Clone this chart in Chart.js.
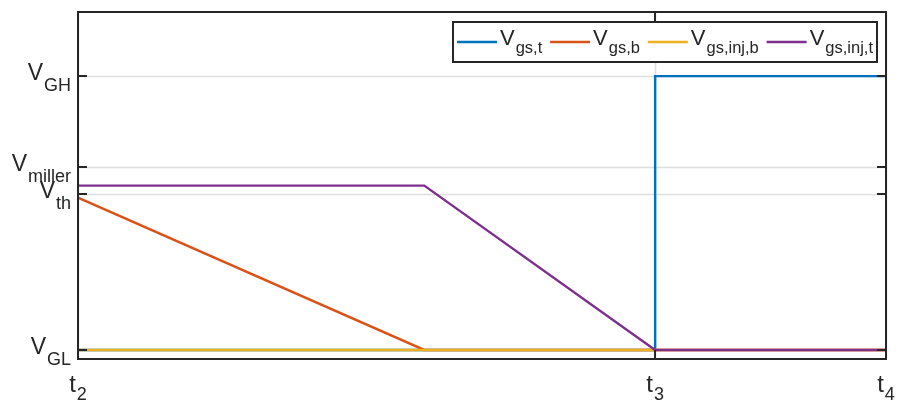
<!DOCTYPE html>
<html>
<head>
<meta charset="utf-8">
<script src="https://cdn.jsdelivr.net/npm/chart.js@4.4.1/dist/chart.umd.min.js"></script>
<style>
  html, body { margin: 0; padding: 0; background: #fff; }
  #wrap { width: 898px; height: 401px; }
</style>
</head>
<body>
<div id="wrap"><canvas id="gateChart"></canvas></div>
<script>
// time instants and gate voltage levels (normalised)
const timeTicks = [0, 1, 1.4];
const timeNames = ['2', '3', '4'];
const levelTicks = [0, 0.57, 0.668, 1];
const levelNames = ['GL', 'th', 'miller', 'GH'];

// V_gs,t
const tGsT = [0, 1, 1, 1.4];
const vGsT = [0, 0, 1, 1];
// V_gs,b
const tGsB = [0, 0.6, 1.4];
const vGsB = [0.556, 0, 0];
// V_gs,inj,b
const tInjB = [0, 1, 1.4];
const vInjB = [0, 0, 0];
// V_gs,inj,t
const tInjT = [0, 0.6, 1, 1.4];
const vInjT = [0.6, 0.6, 0, 0];

const seriesSubs = ['gs,t', 'gs,b', 'gs,inj,b', 'gs,inj,t'];
const seriesColors = ['#0072BD', '#D95319', '#EDB120', '#7E2F8E'];

const FONT = '"Liberation Sans", Arial, Helvetica, sans-serif';
const AXIS = '#262626';
const GRID = '#dedede';
const TICK_LEN = 9;

const toPts = (xs, ys) => xs.map((x, i) => ({ x, y: ys[i] }));

// "V" / "t" followed by a subscript
function measureSub(ctx, main, sub, big, small) {
  ctx.font = big + 'px ' + FONT;
  const w1 = ctx.measureText(main).width;
  ctx.font = small + 'px ' + FONT;
  const w2 = ctx.measureText(sub).width;
  return { w1, w2, w: w1 + w2 + 1 };
}
function drawSub(ctx, main, sub, x, baseMain, baseSub, big, small) {
  const m = measureSub(ctx, main, sub, big, small);
  ctx.fillStyle = AXIS;
  ctx.textAlign = 'left';
  ctx.textBaseline = 'alphabetic';
  ctx.font = big + 'px ' + FONT;
  ctx.fillText(main, x, baseMain);
  ctx.font = small + 'px ' + FONT;
  ctx.fillText(sub, x + m.w1 + 1, baseSub);
  return m.w;
}

const gridPlugin = {
  id: 'gridPlugin',
  beforeDatasetsDraw(chart) {
    const { ctx, chartArea: a, scales: { x, y } } = chart;
    ctx.save();
    ctx.strokeStyle = GRID;
    ctx.lineWidth = 1.6;
    levelTicks.forEach(v => {
      const py = Math.round(y.getPixelForValue(v)) + 0.5;
      ctx.beginPath(); ctx.moveTo(a.left, py); ctx.lineTo(a.right, py); ctx.stroke();
    });
    timeTicks.forEach(t => {
      const px = Math.round(x.getPixelForValue(t)) + 0.5;
      ctx.beginPath(); ctx.moveTo(px, a.top); ctx.lineTo(px, a.bottom); ctx.stroke();
    });
    ctx.restore();
  }
};

const axesPlugin = {
  id: 'axesPlugin',
  afterDatasetsDraw(chart) {
    const { ctx, chartArea: a, scales: { x, y } } = chart;
    ctx.save();
    ctx.strokeStyle = AXIS;
    ctx.lineWidth = 2;
    ctx.strokeRect(a.left, a.top, a.right - a.left, a.bottom - a.top);

    // inward ticks on all four sides
    levelTicks.forEach(v => {
      const py = Math.round(y.getPixelForValue(v));
      ctx.beginPath();
      ctx.moveTo(a.left, py); ctx.lineTo(a.left + TICK_LEN, py);
      ctx.moveTo(a.right, py); ctx.lineTo(a.right - TICK_LEN, py);
      ctx.stroke();
    });
    timeTicks.forEach(t => {
      const px = Math.round(x.getPixelForValue(t));
      ctx.beginPath();
      ctx.moveTo(px, a.bottom); ctx.lineTo(px, a.bottom - TICK_LEN);
      ctx.moveTo(px, a.top); ctx.lineTo(px, a.top + TICK_LEN);
      ctx.stroke();
    });

    // y tick labels, right aligned
    levelTicks.forEach((v, i) => {
      const py = y.getPixelForValue(v);
      const m = measureSub(ctx, 'V', levelNames[i], 23, 18);
      drawSub(ctx, 'V', levelNames[i], a.left - 7 - m.w, py + 4, py + 15, 23, 18);
    });
    // x tick labels, centred
    timeTicks.forEach((t, i) => {
      const px = x.getPixelForValue(t);
      const m = measureSub(ctx, 't', timeNames[i], 24, 18);
      drawSub(ctx, 't', timeNames[i], px - m.w / 2, a.bottom + 33, a.bottom + 41, 24, 18);
    });
    ctx.restore();
  },
  afterDraw(chart) {
    // legend box in the upper right corner, items spread across it
    const { ctx } = chart;
    const items = chart.data.datasets.map((ds, i) => {
      const m = measureSub(ctx, 'V', seriesSubs[i], 22, 16.5);
      return { color: ds.borderColor, sub: seriesSubs[i], w: 40 + 3 + m.w };
    });
    const left = 453, right = 877, top = 22, bottom = 62;
    const used = items.reduce((s, it) => s + it.w, 0);
    const gap = (right - left - 8 - used) / (items.length - 1);
    ctx.save();
    ctx.fillStyle = '#fff';
    ctx.fillRect(left, top, right - left, bottom - top);
    ctx.strokeStyle = AXIS;
    ctx.lineWidth = 2;
    ctx.strokeRect(left, top, right - left, bottom - top);
    let cx = left + 4;
    items.forEach(it => {
      ctx.strokeStyle = it.color;
      ctx.lineWidth = 2.4;
      ctx.beginPath(); ctx.moveTo(cx, 42); ctx.lineTo(cx + 40, 42); ctx.stroke();
      drawSub(ctx, 'V', it.sub, cx + 43, 45, 53, 22, 16.5);
      cx += it.w + gap;
    });
    ctx.restore();
  }
};

const ctx = document.getElementById('gateChart').getContext('2d');
new Chart(ctx, {
  type: 'line',
  data: {
    datasets: [
      { label: 'V_gs,t', data: toPts(tGsT, vGsT), borderColor: seriesColors[0], order: 3 },
      { label: 'V_gs,b', data: toPts(tGsB, vGsB), borderColor: seriesColors[1], order: 2 },
      { label: 'V_gs,inj,b', data: toPts(tInjB, vInjB), borderColor: seriesColors[2], order: 1 },
      { label: 'V_gs,inj,t', data: toPts(tInjT, vInjT), borderColor: seriesColors[3], order: 0 },
    ],
  },
  options: {
    responsive: true,
    maintainAspectRatio: false,
    animation: false,
    layout: { padding: { left: 78, right: 12, top: 12, bottom: 42 } },
    elements: {
      line: { borderWidth: 2.4, tension: 0, fill: false },
      point: { radius: 0, hoverRadius: 0 },
    },
    plugins: {
      legend: { display: false },
      tooltip: { enabled: false },
    },
    scales: {
      x: { type: 'linear', display: false, min: 0, max: 1.4 },
      y: { type: 'linear', display: false, min: -0.033, max: 1.234 },
    },
  },
  plugins: [gridPlugin, axesPlugin],
});
</script>
</body>
</html>
